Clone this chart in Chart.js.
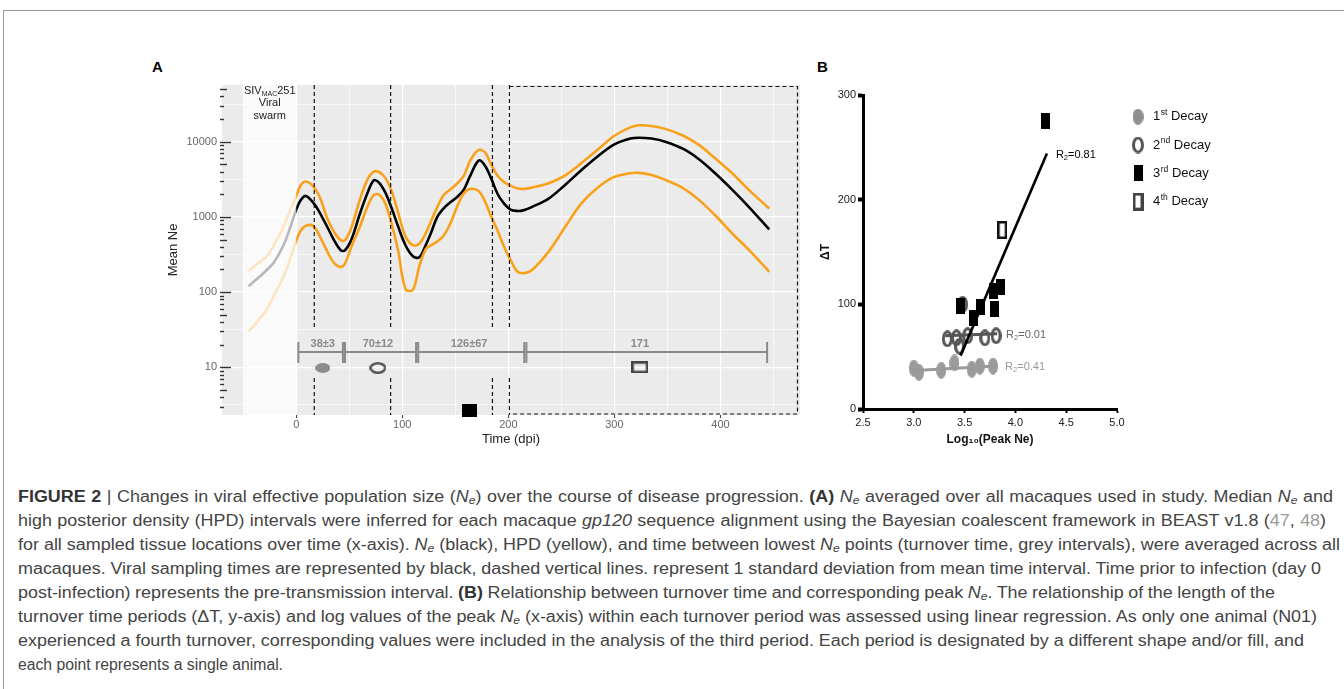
<!DOCTYPE html>
<html>
<head>
<meta charset="utf-8">
<script src="https://cdn.jsdelivr.net/npm/chart.js@4.4.1/dist/chart.umd.min.js"></script>
<style>
  html, body { margin: 0; padding: 0; background: #fff; }
  body { width: 1344px; height: 689px; position: relative; overflow: hidden; font-family: "Liberation Sans", Arial, sans-serif; }
  #frame { position: absolute; left: 3px; top: 10px; width: 1400px; height: 700px; border-top: 1px solid #9a9a9a; border-left: 1px solid #9a9a9a; }
  canvas { position: absolute; }
  #chartA { left: 140px; top: 60px; }
  #chartB { left: 800px; top: 60px; }
  .panel { position: absolute; font: bold 15px "Liberation Sans", Arial, sans-serif; color: #000; }
  .ln { position: absolute; left: 18px; white-space: nowrap; transform-origin: 0 50%;
        font: 16px "Liberation Sans Narrow", "Liberation Sans", Arial, sans-serif; color: #444; line-height: 18px; }
  .ln b { color: #333; }
  .ln sub { font-size: 0.68em; vertical-align: -0.2em; line-height: 0; }
  .ref { color: #9a9a9a; }
</style>
</head>
<body>
<div id="frame"></div>
<div class="panel" style="left:152px;top:58px">A</div>
<div class="panel" style="left:817px;top:58px">B</div>
<canvas id="chartA" width="680" height="400"></canvas>
<canvas id="chartB" width="440" height="400"></canvas>

<div class="ln"><b>FIGURE 2</b> | Changes in viral effective population size (<i>N<sub>e</sub></i>) over the course of disease progression. <b>(A)</b> <i>N<sub>e</sub></i> averaged over all macaques used in study. Median <i>N<sub>e</sub></i> and</div>
<div class="ln">high posterior density (HPD) intervals were inferred for each macaque <i>gp120</i> sequence alignment using the Bayesian coalescent framework in BEAST v1.8 (<span class="ref">47</span>, <span class="ref">48</span>)</div>
<div class="ln">for all sampled tissue locations over time (x-axis). <i>N<sub>e</sub></i> (black), HPD (yellow), and time between lowest <i>N<sub>e</sub></i> points (turnover time, grey intervals), were averaged across all</div>
<div class="ln">macaques. Viral sampling times are represented by black, dashed vertical lines. represent 1 standard deviation from mean time interval. Time prior to infection (day 0</div>
<div class="ln">post-infection) represents the pre-transmission interval. <b>(B)</b> Relationship between turnover time and corresponding peak <i>N<sub>e</sub></i>. The relationship of the length of the</div>
<div class="ln">turnover time periods (ΔT, y-axis) and log values of the peak <i>N<sub>e</sub></i> (x-axis) within each turnover period was assessed using linear regression. As only one animal (N01)</div>
<div class="ln">experienced a fourth turnover, corresponding values were included in the analysis of the third period. Each period is designated by a different shape and/or fill, and</div>
<div class="ln">each point represents a single animal.</div>

<script>
const FONT = "'Liberation Sans', Arial, sans-serif";

// Panel A: Ne over time (days post infection)
const days = [-45, -37, -28, -21, -12, -6, 0, 4, 9, 16, 22, 30, 36, 42, 46, 52, 60, 67, 73, 78, 84, 90, 96, 103, 110, 116,
  122, 127, 133, 139, 145, 152, 158, 164, 172, 178, 184, 190, 196, 202, 208, 214, 222, 238, 254, 269, 285, 300, 315, 323,
  335, 348, 365, 380, 395, 411, 428, 446];
const medianNe = [120, 150, 195, 250, 420, 700, 1250, 1650, 1900, 1550, 1150, 700, 480, 360, 360, 500, 1100, 2050, 3050, 2850,
  2100, 1300, 750, 420, 300, 290, 420, 610, 1000, 1300, 1550, 1850, 2300, 3500, 5600, 4800, 3200, 2000, 1500, 1250, 1200, 1220,
  1350, 1750, 2700, 4200, 6500, 9200, 11000, 11300, 11000, 10000, 8000, 5800, 3800, 2300, 1300, 680];
const upperHPD = [190, 235, 295, 420, 740, 1200, 1900, 2600, 2950, 2550, 1850, 900, 620, 490, 490, 720, 1700, 3100, 4000, 3950,
  3300, 2200, 1150, 550, 420, 440, 600, 870, 1350, 1950, 2300, 2800, 3500, 5600, 7800, 7200, 4900, 3500, 2900, 2600, 2400, 2350,
  2450, 2800, 3600, 5200, 8000, 12000, 15500, 16500, 16200, 14800, 12000, 9000, 6000, 3800, 2200, 1290];
const lowerHPD = [30, 40, 58, 90, 160, 270, 480, 650, 760, 760, 560, 330, 240, 215, 240, 400, 740, 1350, 1950, 1980,
  1500, 800, 360, 110, 107, 220, 370, 420, 470, 560, 800, 1400, 2050, 2350, 2200, 1600, 1000, 650, 400, 270, 190, 178,
  195, 345, 750, 1520, 2500, 3400, 3800, 3850, 3600, 3100, 2400, 1670, 1050, 605, 350, 186];

const samplingDays = [17, 89, 185];
const lastSamplingDay = 201;
const turnoverStart = [2, 46, 115, 217];
const turnoverEnd = [44, 113, 215, 444];
const turnoverLabels = ["38\u00b13", "70\u00b112", "126\u00b167", "171"];
const markerDays = [25, 77, 163, 324];
const markerNe = [9.8, 9.8, 2.67, 10];

const xTicksA = [0, 100, 200, 300, 400];
const xMinorA = [-50, 50, 150, 250, 350, 450];
const yTicksA = [10, 100, 1000, 10000];
const yMinorA = [3.162, 31.62, 316.2, 3162, 31623];

// Panel B: turnover time vs log10 peak Ne
const decayLabels = ["1st Decay", "2nd Decay", "3rd Decay", "4th Decay"];
const decay1Peak = [3.00, 3.05, 3.27, 3.40, 3.57, 3.65, 3.78];
const decay1DT = [39, 35, 37, 44, 38, 41, 41];
const decay2Peak = [3.33, 3.42, 3.45, 3.48, 3.53, 3.70, 3.81];
const decay2DT = [67, 68, 60, 100, 70, 68, 70];
const decay3Peak = [3.46, 3.59, 3.66, 3.79, 3.78, 3.85, 4.30];
const decay3DT = [98, 87, 97, 96, 113, 117, 275];
const decay4Peak = [3.87];
const decay4DT = [171];
const fit1X = [2.97, 3.81], fit1Y = [36.5, 41];
const fit2X = [3.31, 3.82], fit2Y = [70, 72];
const fit3X = [3.46, 4.31], fit3Y = [51, 244];
const fitR2 = ["0.41", "0.01", "0.81"];
const xTicksB = [2.5, 3.0, 3.5, 4.0, 4.5, 5.0];
const yTicksB = [0, 100, 200, 300];

Chart.defaults.font.family = FONT;

function makeSymbol(w, h, shape, fill, stroke, lw) {
  const c = document.createElement("canvas");
  c.width = w;
  c.height = h;
  const g = c.getContext("2d");
  const i = (lw || 0) / 2;
  g.beginPath();
  if (shape === "ellipse") g.ellipse(w / 2, h / 2, w / 2 - i, h / 2 - i, 0, 0, Math.PI * 2);
  else g.rect(i, i, w - 2 * i, h - 2 * i);
  if (fill) { g.fillStyle = fill; g.fill(); }
  if (stroke) { g.strokeStyle = stroke; g.lineWidth = lw; g.stroke(); }
  return c;
}

function pts(xs, ys) {
  return xs.map((v, i) => ({ x: v, y: ys[i] }));
}

function line(ctx, x0, y0, x1, y1) {
  ctx.beginPath();
  ctx.moveTo(x0, y0);
  ctx.lineTo(x1, y1);
  ctx.stroke();
}

// Chart: panel A
const symbolsA = [
  makeSymbol(15, 10, "ellipse", "#8c8c8c"),
  makeSymbol(17, 12, "ellipse", null, "#555", 2.5),
  makeSymbol(15, 13, "rect", "#000"),
  makeSymbol(17, 12, "rect", null, "#444", 2.5),
];

const panelA = {
  id: "panelA",
  beforeDraw(chart) {
    const { ctx, chartArea: a } = chart;
    ctx.save();
    ctx.fillStyle = "#ebebeb";
    ctx.fillRect(a.left, a.top, a.width, a.height);
    ctx.restore();
  },
  afterDatasetsDraw(chart) {
    const { ctx, chartArea: a, scales: { x, y } } = chart;
    ctx.save();

    // pre-transmission interval is washed out
    const p0 = x.getPixelForValue(-50), p1 = x.getPixelForValue(0);
    ctx.fillStyle = "rgba(255,255,255,0.72)";
    ctx.fillRect(p0, a.top, p1 - p0, a.height);

    // SIVmac251 label
    const cx = x.getPixelForValue(-25);
    ctx.fillStyle = "#222";
    ctx.textBaseline = "middle";
    ctx.font = "11px " + FONT;
    const wSIV = ctx.measureText("SIV").width, w251 = ctx.measureText("251").width;
    ctx.font = "7px " + FONT;
    const wMAC = ctx.measureText("MAC").width;
    let sx = cx - (wSIV + wMAC + w251) / 2;
    ctx.textAlign = "left";
    ctx.font = "11px " + FONT;
    ctx.fillText("SIV", sx, a.top + 6);
    sx += wSIV;
    ctx.font = "7px " + FONT;
    ctx.fillText("MAC", sx, a.top + 9);
    sx += wMAC;
    ctx.font = "11px " + FONT;
    ctx.fillText("251", sx, a.top + 6);
    ctx.textAlign = "center";
    ctx.fillText("Viral", cx, a.top + 18);
    ctx.fillText("swarm", cx, a.top + 31);

    // sampling times (dashed)
    ctx.strokeStyle = "#111";
    ctx.lineWidth = 1.2;
    ctx.setLineDash([4, 3]);
    const gapTop = y.getPixelForValue(33), gapBottom = y.getPixelForValue(7.2);
    samplingDays.concat([lastSamplingDay]).forEach(d => {
      const px = x.getPixelForValue(d);
      line(ctx, px, a.top, px, gapTop);
      line(ctx, px, gapBottom, px, a.bottom);
    });
    const bx = x.getPixelForValue(lastSamplingDay);
    ctx.beginPath();
    ctx.moveTo(bx, a.top + 1.5);
    ctx.lineTo(a.right - 2.5, a.top + 1.5);
    ctx.lineTo(a.right - 2.5, a.bottom - 1);
    ctx.lineTo(bx, a.bottom - 1);
    ctx.stroke();
    ctx.setLineDash([]);

    // turnover intervals
    const by = y.getPixelForValue(16), t1 = y.getPixelForValue(21.7), t2 = y.getPixelForValue(11.4);
    ctx.strokeStyle = "#8a8a8a";
    ctx.lineWidth = 2;
    turnoverStart.forEach((s, i) => {
      const x0 = x.getPixelForValue(s), x1 = x.getPixelForValue(turnoverEnd[i]);
      line(ctx, x0, by, x1, by);
      line(ctx, x0, t1, x0, t2);
      line(ctx, x1, t1, x1, t2);
    });
    ctx.fillStyle = "#8a8a8a";
    ctx.font = "bold 11px " + FONT;
    ctx.textAlign = "center";
    turnoverLabels.forEach((t, i) => {
      ctx.fillText(t, x.getPixelForValue(markerDays[i]), y.getPixelForValue(20.7));
    });

    // log ticks along the left edge
    ctx.strokeStyle = "#333";
    ctx.lineWidth = 1.4;
    for (let e = 0; e <= 4; e++) {
      for (let k = 1; k <= 9; k++) {
        const v = k * Math.pow(10, e);
        if (v < y.min || v > y.max) continue;
        const py = Math.round(y.getPixelForValue(v)) + 0.5;
        const len = k === 1 ? 11 : (k === 5 ? 7 : 4);
        line(ctx, a.left - 2, py, a.left - 2 + len, py);
      }
    }
    ctx.restore();
  },
};

function renderPanelA(ctx) {
  const orange = "#f9a11b";
  new Chart(ctx, {
    type: "line",
    data: {
      datasets: [
        { label: "Upper HPD", data: pts(days, upperHPD), borderColor: orange, borderWidth: 2.6, pointRadius: 0, tension: 0.35 },
        { label: "Lower HPD", data: pts(days, lowerHPD), borderColor: orange, borderWidth: 2.6, pointRadius: 0, tension: 0.35 },
        { label: "Mean Ne", data: pts(days, medianNe), borderColor: "#000", borderWidth: 2.6, pointRadius: 0, tension: 0.35 },
        {
          label: "Decay", type: "scatter", data: pts(markerDays, markerNe), showLine: false, clip: false,
          pointStyle: symbolsA, pointRadius: 5,
        },
      ],
    },
    options: {
      responsive: false,
      animation: false,
      devicePixelRatio: 1,
      layout: { padding: { top: 25, right: 20, left: 0, bottom: 0 } },
      plugins: { legend: { display: false }, tooltip: { enabled: false } },
      scales: {
        x: {
          type: "linear",
          min: -70,
          max: 475,
          afterFit: s => { s.height = 45; },
          afterBuildTicks: s => { s.ticks = xMinorA.concat(xTicksA).sort((p, q) => p - q).map(v => ({ value: v })); },
          ticks: {
            autoSkip: false, maxRotation: 0, padding: 0, color: "#666", font: { size: 11 },
            callback: v => (xTicksA.includes(v) ? String(v) : ""),
          },
          grid: {
            color: "#fff",
            lineWidth: c => (c.tick && xTicksA.includes(c.tick.value) ? 1.2 : 0.6),
            tickColor: c => (c.tick && xTicksA.includes(c.tick.value) ? "#333" : "rgba(0,0,0,0)"),
            tickLength: 3,
            tickWidth: 1,
          },
          border: { display: false },
          title: { display: true, text: "Time (dpi)", color: "#222", font: { size: 13 }, padding: { top: 0, bottom: 13 } },
        },
        y: {
          type: "logarithmic",
          min: 2.32,
          max: 56700,
          afterFit: s => { s.width = 82; },
          afterBuildTicks: s => { s.ticks = yMinorA.concat(yTicksA).sort((p, q) => p - q).map(v => ({ value: v })); },
          ticks: {
            autoSkip: false, padding: 5, color: "#666", font: { size: 11 },
            callback: v => (yTicksA.includes(v) ? String(v) : ""),
          },
          grid: {
            color: "#fff",
            lineWidth: c => (c.tick && yTicksA.includes(c.tick.value) ? 1.2 : 0.6),
            drawTicks: false,
          },
          border: { display: false },
          title: { display: true, text: "Mean Ne", color: "#222", font: { size: 13 }, padding: { top: 26, bottom: 0 } },
        },
      },
    },
    plugins: [panelA],
  });
}

// Chart: panel B
const symbolsB = [
  makeSymbol(10, 17, "ellipse", "#9b9b9b"),
  makeSymbol(11, 17, "ellipse", null, "#555", 3),
  makeSymbol(9, 16, "rect", "#000"),
  makeSymbol(10, 18, "rect", null, "#111", 2.5),
];
const legendSymbols = [
  makeSymbol(11, 16, "ellipse", "#8f8f8f"),
  makeSymbol(12, 17, "ellipse", null, "#555", 3),
  makeSymbol(9, 16, "rect", "#000"),
  makeSymbol(11, 18, "rect", null, "#444", 3),
];

const panelB = {
  id: "panelB",
  afterDraw(chart) {
    const { ctx, chartArea: a, scales: { x, y } } = chart;
    ctx.save();
    ctx.textBaseline = "middle";
    ctx.textAlign = "left";

    // R2 labels at the end of each fit
    const fits = [[fit1X, fit1Y, "#9a9a9a"], [fit2X, fit2Y, "#666"], [fit3X, fit3Y, "#000"]];
    fits.forEach(([fx, fy, col], i) => {
      let px = x.getPixelForValue(fx[1]) + 9;
      const py = y.getPixelForValue(fy[1]) + 1;
      ctx.fillStyle = col;
      ctx.font = "11px " + FONT;
      ctx.fillText("R", px, py);
      px += ctx.measureText("R").width;
      ctx.font = "7.5px " + FONT;
      ctx.fillText("2", px, py + 3);
      px += ctx.measureText("2").width;
      ctx.font = "11px " + FONT;
      ctx.fillText("=" + fitR2[i], px, py);
    });

    // legend
    decayLabels.forEach((lab, i) => {
      const cy = a.top + 21.7 + i * 28.3;
      const sym = legendSymbols[i];
      ctx.drawImage(sym, a.right + 21 - sym.width / 2, cy - sym.height / 2);
      const m = lab.match(/^(\d+)(\D+?) (.*)$/);
      let tx = a.right + 36;
      ctx.fillStyle = "#111";
      ctx.font = "13px " + FONT;
      ctx.fillText(m[1], tx, cy);
      tx += ctx.measureText(m[1]).width;
      ctx.font = "8.5px " + FONT;
      ctx.fillText(m[2], tx + 0.5, cy - 4);
      tx += ctx.measureText(m[2]).width + 0.5;
      ctx.font = "13px " + FONT;
      ctx.fillText(" " + m[3], tx, cy);
    });
    ctx.restore();
  },
};

function renderPanelB(ctx) {
  const fitLine = (xs, ys, col, w) => ({
    type: "line", data: pts(xs, ys), borderColor: col, borderWidth: w, pointRadius: 0, showLine: true, tension: 0,
  });
  new Chart(ctx, {
    type: "scatter",
    data: {
      datasets: [
        fitLine(fit3X, fit3Y, "#000", 2.6),
        fitLine(fit2X, fit2Y, "#555", 3),
        fitLine(fit1X, fit1Y, "#9a9a9a", 3),
        { label: decayLabels[2], data: pts(decay3Peak, decay3DT), pointStyle: symbolsB[2], pointRadius: 5 },
        { label: decayLabels[3], data: pts(decay4Peak, decay4DT), pointStyle: symbolsB[3], pointRadius: 5 },
        { label: decayLabels[1], data: pts(decay2Peak, decay2DT), pointStyle: symbolsB[1], pointRadius: 5 },
        { label: decayLabels[0], data: pts(decay1Peak, decay1DT), pointStyle: symbolsB[0], pointRadius: 5 },
      ],
    },
    options: {
      responsive: false,
      animation: false,
      devicePixelRatio: 1,
      layout: { padding: { top: 35, right: 123, left: 0, bottom: 0 } },
      plugins: { legend: { display: false }, tooltip: { enabled: false } },
      scales: {
        x: {
          type: "linear",
          min: 2.5,
          max: 5.0,
          afterFit: s => { s.height = 51; },
          afterBuildTicks: s => { s.ticks = xTicksB.map(v => ({ value: v })); },
          ticks: { autoSkip: false, maxRotation: 0, padding: 3, color: "#222", font: { size: 11 }, callback: v => v.toFixed(1) },
          grid: { display: true, drawOnChartArea: false, tickLength: 4, tickWidth: 2, tickColor: "#000" },
          border: { display: true, color: "#000", width: 3 },
          title: { display: true, text: "Log\u2081\u2080(Peak Ne)", color: "#111", font: { size: 12, weight: "bold" }, padding: { top: 0, bottom: 13.5 } },
        },
        y: {
          type: "linear",
          min: 0,
          max: 300,
          afterFit: s => { s.width = 63; },
          afterBuildTicks: s => { s.ticks = yTicksB.map(v => ({ value: v })); },
          ticks: { autoSkip: false, padding: 2, color: "#222", font: { size: 11 } },
          grid: { display: true, drawOnChartArea: false, tickLength: 5, tickWidth: 4, tickColor: "#000" },
          border: { display: true, color: "#000", width: 3 },
          title: { display: true, text: "\u0394T", color: "#111", font: { size: 12, weight: "bold" }, padding: { top: 18, bottom: 0 } },
        },
      },
    },
    plugins: [panelB],
  });
}

renderPanelA(document.getElementById("chartA"));
renderPanelB(document.getElementById("chartB"));

// caption: one common horizontal squeeze, word spacing fills each ragged line to its width;
// the short last line gets its own squeeze
const captionMid = [497, 521, 545, 569, 593, 617, 641, 665];
const captionWidth = [1315, 1308, 1322, 1303, 1257, 1299, 1286];
const lastLineWidth = 265;
const lines = Array.from(document.querySelectorAll(".ln"));
const natural = lines.map(el => el.getBoundingClientRect().width);
const ratios = captionWidth.map((w, i) => w / natural[i]).sort((p, q) => p - q);
const squeeze = ratios[Math.floor(ratios.length / 2)];
lines.forEach((el, i) => {
  el.style.top = (captionMid[i] - 9) + "px";
  let s = squeeze;
  if (i < captionWidth.length) {
    const gaps = (el.textContent.match(/ /g) || []).length;
    const extra = (captionWidth[i] / squeeze - natural[i]) / gaps;
    el.style.wordSpacing = extra.toFixed(3) + "px";
  } else {
    s = lastLineWidth / natural[i];
  }
  el.style.transform = "scaleX(" + s.toFixed(4) + ")";
});
</script>
</body>
</html>
